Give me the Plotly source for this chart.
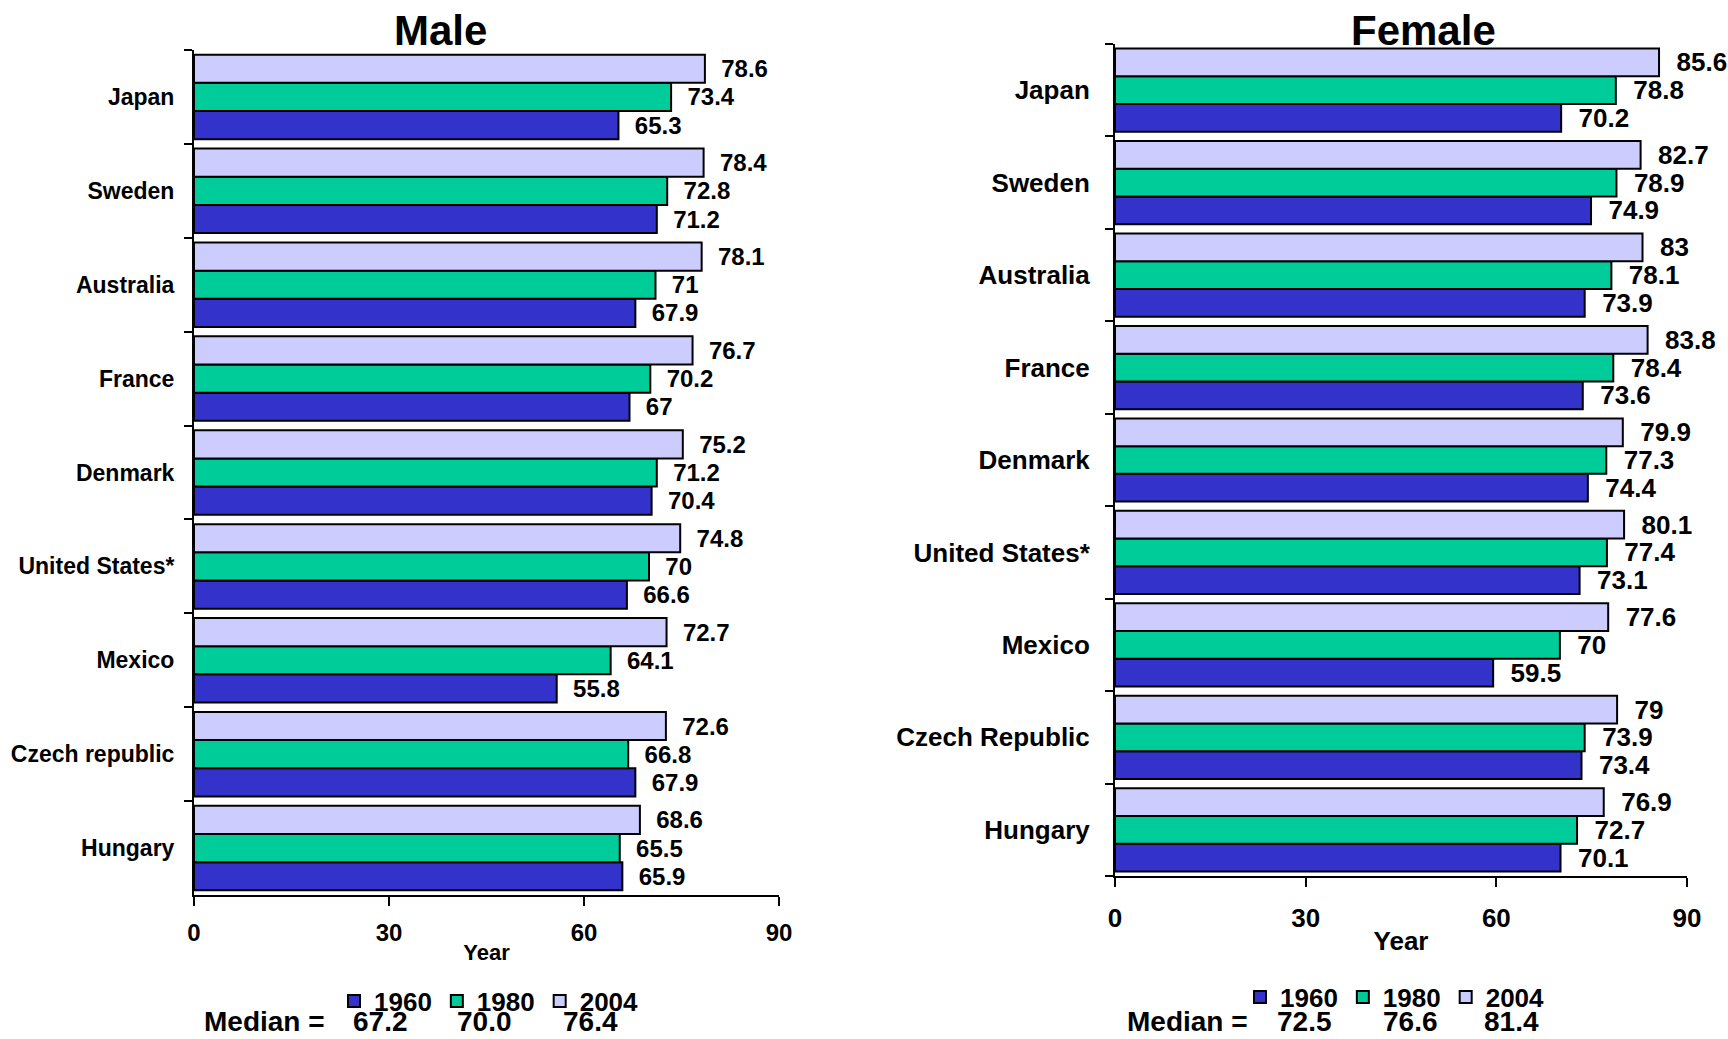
import plotly.graph_objects as go

# Life expectancy at birth by country, 1960 / 1980 / 2004
countries_male = ["Japan", "Sweden", "Australia", "France", "Denmark",
                  "United States*", "Mexico", "Czech republic", "Hungary"]
countries_female = ["Japan", "Sweden", "Australia", "France", "Denmark",
                    "United States*", "Mexico", "Czech Republic", "Hungary"]

years = ["1960", "1980", "2004"]

male_1960 = [65.3, 71.2, 67.9, 67, 70.4, 66.6, 55.8, 67.9, 65.9]
male_1980 = [73.4, 72.8, 71, 70.2, 71.2, 70, 64.1, 66.8, 65.5]
male_2004 = [78.6, 78.4, 78.1, 76.7, 75.2, 74.8, 72.7, 72.6, 68.6]

female_1960 = [70.2, 74.9, 73.9, 73.6, 74.4, 73.1, 59.5, 73.4, 70.1]
female_1980 = [78.8, 78.9, 78.1, 78.4, 77.3, 77.4, 70, 73.9, 72.7]
female_2004 = [85.6, 82.7, 83, 83.8, 79.9, 80.1, 77.6, 79, 76.9]

median_male = ["67.2", "70.0", "76.4"]
median_female = ["72.5", "76.6", "81.4"]

x_ticks = [0, 30, 60, 90]

colors = {"1960": "#3333CC", "1980": "#00CC99", "2004": "#CCCCFF"}

W, H = 1728, 1039
FONT = "Liberation Sans, Arial, sans-serif"


def px_x(v):
    return v / W


def px_y(v):
    return 1 - v / H


fig = go.Figure()

panels = [
    ("x", "y", "legend", countries_male, [male_1960, male_1980, male_2004], 24),
    ("x2", "y2", "legend2", countries_female, [female_1960, female_1980, female_2004], 26),
]

for xa, ya, leg, cats, series, fs in panels:
    for yr, vals in zip(years, series):
        fig.add_trace(go.Bar(
            x=vals, y=cats, orientation="h", name=yr,
            xaxis=xa, yaxis=ya, legend=leg,
            marker=dict(color=colors[yr], line=dict(color="black", width=2)),
            text=vals, texttemplate="\u00a0\u00a0%{x}", textposition="outside",
            textfont=dict(family=FONT, size=fs, color="black", weight="bold"),
            constraintext="none", cliponaxis=False,
            hoverinfo="skip",
        ))

axis_common = dict(
    showline=True, linecolor="black", linewidth=2, showgrid=False,
    zeroline=False, ticks="outside", tickcolor="black", tickwidth=2,
    automargin=False,
)

fig.update_layout(
    width=W, height=H,
    margin=dict(l=0, r=0, t=0, b=0, autoexpand=False),
    paper_bgcolor="white", plot_bgcolor="white",
    barmode="group", bargap=0.1, bargroupgap=0,
    xaxis=dict(domain=[px_x(194), px_x(779)], anchor="y", range=[0, 90],
               tickvals=x_ticks, ticklen=9, ticklabelstandoff=6,
               tickfont=dict(family=FONT, size=24, color="black", weight="bold"),
               title=dict(text="Year", standoff=0,
                          font=dict(family=FONT, size=22, color="black", weight="bold")),
               **axis_common),
    yaxis=dict(domain=[px_y(895), px_y(50)], anchor="x", type="category",
               categoryorder="array", categoryarray=countries_male[::-1],
               tickson="boundaries", ticklen=8, ticklabelstandoff=13,
               tickfont=dict(family=FONT, size=23, color="black", weight="bold"),
               **axis_common),
    xaxis2=dict(domain=[px_x(1115), px_x(1687)], anchor="y2", range=[0, 90],
                tickvals=x_ticks, ticklen=9, ticklabelstandoff=9,
                tickfont=dict(family=FONT, size=26, color="black", weight="bold"),
                title=dict(text="Year", standoff=0,
                           font=dict(family=FONT, size=26, color="black", weight="bold")),
                **axis_common),
    yaxis2=dict(domain=[px_y(876), px_y(44)], anchor="x2", type="category",
                categoryorder="array", categoryarray=countries_female[::-1],
                tickson="boundaries", ticklen=8, ticklabelstandoff=18,
                tickfont=dict(family=FONT, size=26, color="black", weight="bold"),
                **axis_common),
    legend=dict(orientation="h", x=px_x(489), y=px_y(1001), xanchor="center",
                yanchor="middle", bgcolor="rgba(0,0,0,0)",
                font=dict(family=FONT, size=26, color="black", weight="bold"),
                itemwidth=30, tracegroupgap=0),
    legend2=dict(orientation="h", x=px_x(1395), y=px_y(997), xanchor="center",
                 yanchor="middle", bgcolor="rgba(0,0,0,0)",
                 font=dict(family=FONT, size=26, color="black", weight="bold"),
                 itemwidth=30, tracegroupgap=0),
)

title_font = dict(family=FONT, size=42, color="black", weight="bold")
ann_font = dict(family=FONT, size=28, color="black", weight="bold")

# Median rows sit on the bottom edge of the page
annotations = [
    dict(text="Male", x=px_x(441), y=px_y(30), xref="paper", yref="paper",
         xanchor="center", yanchor="middle", showarrow=False, font=title_font),
    dict(text="Female", x=px_x(1423), y=px_y(30), xref="paper", yref="paper",
         xanchor="center", yanchor="middle", showarrow=False, font=title_font),
    dict(text="Median =", x=px_x(202), y=0, xref="paper", yref="paper",
         xanchor="left", yanchor="bottom", showarrow=False, font=ann_font),
    dict(text="Median =", x=px_x(1125), y=0, xref="paper", yref="paper",
         xanchor="left", yanchor="bottom", showarrow=False, font=ann_font),
]
for val, cx in zip(median_male, [380, 484, 590]):
    annotations.append(dict(text=val, x=px_x(cx), y=0, xref="paper",
                            yref="paper", xanchor="center", yanchor="bottom",
                            showarrow=False, font=ann_font))
for val, cx in zip(median_female, [1304, 1410, 1511]):
    annotations.append(dict(text=val, x=px_x(cx), y=0, xref="paper",
                            yref="paper", xanchor="center", yanchor="bottom",
                            showarrow=False, font=ann_font))

fig.update_layout(annotations=annotations)

fig.write_html("out.html")
